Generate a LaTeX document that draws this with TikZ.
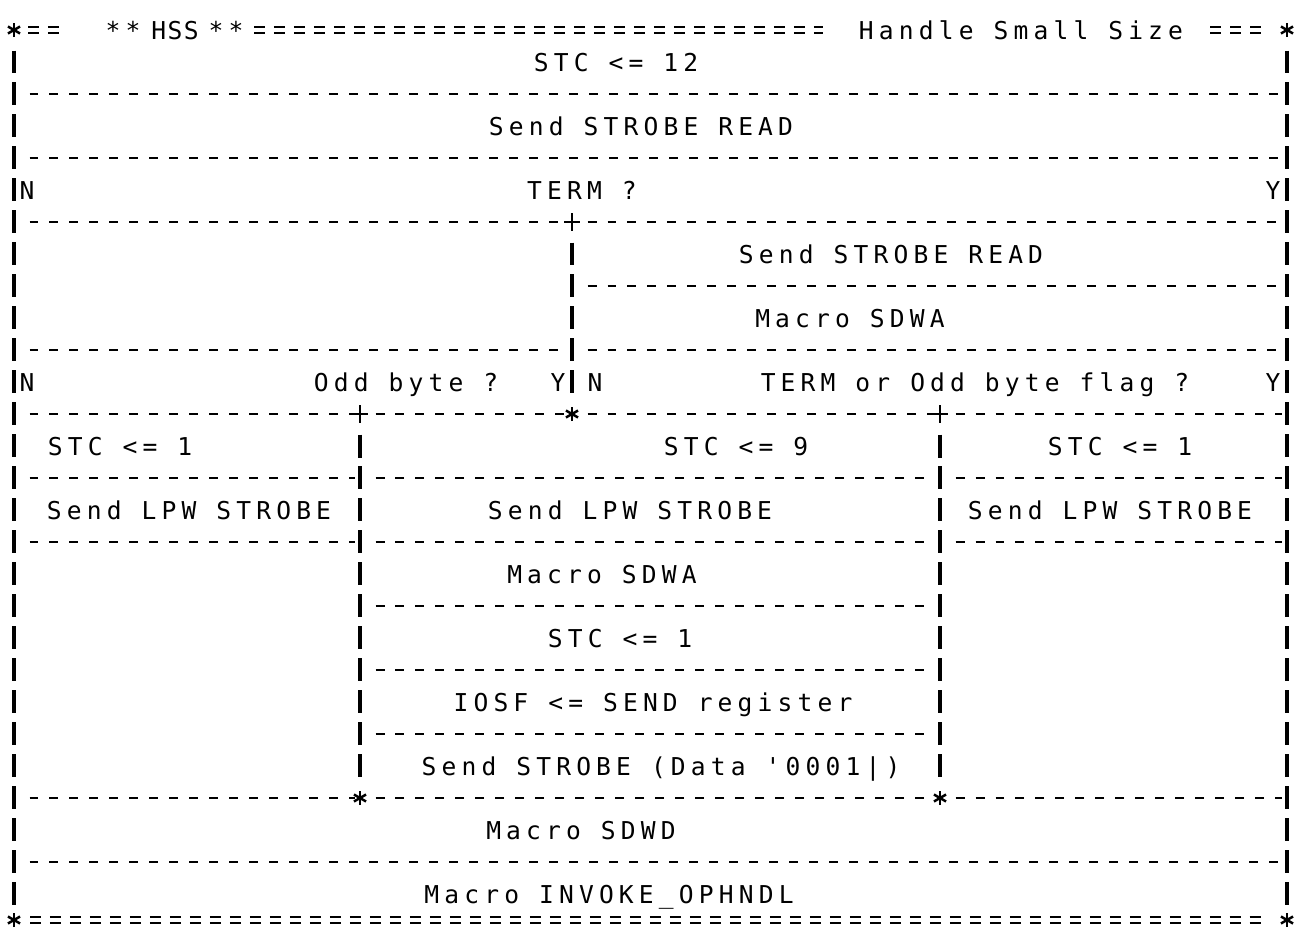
\documentclass[tikz,border=0pt]{standalone}
\usepackage{fontspec}
\usepackage{tikz}
\usetikzlibrary{calc}
\newfontfamily\lpfont{DejaVu Sans Mono}[LetterSpace=21]

\begin{document}
\begin{tikzpicture}[
    x=0.02cm, y=-0.02cm,
    lbl/.style={font=\lpfont\fontsize{14pt}{16pt}\selectfont, anchor=base, inner sep=0pt, yshift=-0.19cm},
    dashrule/.style={line width=1.3pt, dash pattern=on 0.18cm off 0.22cm},
    bar/.style={line width=1.8pt, dash pattern=on 0.46cm off 0.18cm},
    dblrule/.style={line width=1pt, dash pattern=on 0.22cm off 0.18cm}
]
    \useasboundingbox (0,0) rectangle (1299,940);

    % frame: double rules top and bottom
    \foreach \a/\b/\y in {28/59/30, 254/823/30, 1210/1261/30, 30/1261/920} {
        \draw[dblrule] (\a,\y-3) -- (\b,\y-3);
        \draw[dblrule] (\a,\y+3) -- (\b,\y+3);
    }
    \node[lbl] (hssl) at (123,30) {**};
    \node[lbl, font=\lpfont\fontsize{14pt}{16pt}\selectfont\addfontfeature{LetterSpace=6}] (hss) at (175,30) {HSS};
    \node[lbl] (hssr) at (226,30) {**};
    \node[lbl] (title) at (1021,30) {Handle Small Size};

    % vertical bars
    \draw[bar] (14,50.5) -- (14,905.5);
    \draw[bar] (1287,50.5) -- (1287,905.5);
    \draw[bar] (572,242.5) -- (572,393.5);
    \draw[bar] (360,434.5) -- (360,777.5);
    \draw[bar] (940,434.5) -- (940,777.5);

    % dashed separators
    \foreach \a/\b/\y in {14/1287/94, 14/1287/158, 14/572/222, 572/1287/222,
        572/1287/286, 14/572/350, 572/1287/350,
        14/360/414, 360/572/414, 572/940/414, 940/1287/414,
        14/360/478, 360/940/478, 940/1287/478,
        14/360/542, 360/940/542, 940/1287/542,
        360/940/606, 360/940/670, 360/940/734,
        14/360/798, 360/940/798, 940/1287/798, 14/1287/862}
        \draw[dashrule] (\a+15.5,\y) -- (\b-5,\y);

    % junctions
    \foreach \x/\y in {572/222, 360/414, 940/414}
        \draw[line width=1.5pt] (\x-8,\y) -- (\x+8,\y) (\x,\y-9) -- (\x,\y+9);
    \foreach \x/\y in {14/30, 1287/30, 14/920, 1287/920, 572/414, 360/798, 940/798}
        \foreach \ang in {90,30,150}
            \draw[line width=1.4pt] (\x,\y) +(\ang:7) -- +(\ang+180:7);

    % texts
    \node[lbl] (stc12) at (616,62) {STC <= 12};
    \node[lbl] (sread) at (641,126) {Send STROBE READ};
    \node[lbl] (termn) at (27,190) {N};
    \node[lbl] (term) at (582,190) {TERM ?};
    \node[lbl] (termy) at (1273,190) {Y};
    \node[lbl] (sreadb) at (891,254) {Send STROBE READ};
    \node[lbl] (sdwa) at (850,318) {Macro SDWA};
    \node[lbl] (oddn) at (27,382) {N};
    \node[lbl] (odd) at (406,382) {Odd byte ?};
    \node[lbl] (oddy) at (558,382) {Y};
    \node[lbl] (flagn) at (595,382) {N};
    \node[lbl] (flag) at (975,382) {TERM or Odd byte flag ?};
    \node[lbl] (flagy) at (1273,382) {Y};
    \node[lbl] (stca) at (120,446) {STC <= 1};
    \node[lbl] (stcb) at (736,446) {STC <= 9};
    \node[lbl] (stcc) at (1120,446) {STC <= 1};
    \node[lbl] (lpwa) at (189,510) {Send LPW STROBE};
    \node[lbl] (lpwb) at (630,510) {Send LPW STROBE};
    \node[lbl] (lpwc) at (1110,510) {Send LPW STROBE};
    \node[lbl] (sdwab) at (602,574) {Macro SDWA};
    \node[lbl] (stcd) at (620,638) {STC <= 1};
    \node[lbl] (iosf) at (653,702) {IOSF <= SEND register};
    \node[lbl] (sdata) at (661,766) {Send STROBE (Data '0001|)};
    \node[lbl] (sdwd) at (581,830) {Macro SDWD};
    \node[lbl] (invoke) at (609,894) {Macro INVOKE\_OPHNDL};
\end{tikzpicture}
\end{document}
